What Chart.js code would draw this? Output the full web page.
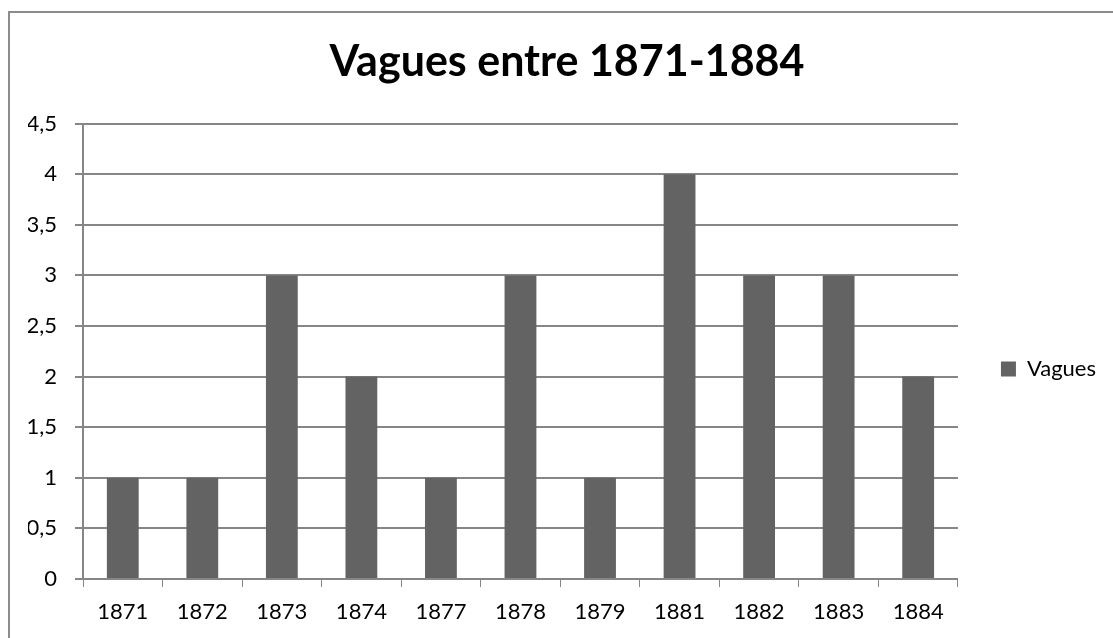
<!DOCTYPE html>
<html>
<head>
<meta charset="utf-8">
<script src="https://cdn.jsdelivr.net/npm/chart.js@4.4.0/dist/chart.umd.min.js"></script>
<style>
  html, body { margin: 0; padding: 0; background: #fff; overflow: hidden; width: 1113px; height: 638px; }
  #frame {
    position: absolute; left: 8px; top: 11px;
    width: 1120px; height: 640px;
    border-left: 2px solid #8c8c8c; border-top: 2px solid #8c8c8c;
    box-sizing: border-box;
  }
  #wrap { position: absolute; left: 0; top: 0; width: 1106px; height: 738px; }
</style>
</head>
<body>
<div id="frame"></div>
<div id="wrap"><canvas id="myChart"></canvas></div>
<script>
const years = ['1871', '1872', '1873', '1874', '1877', '1878', '1879', '1881', '1882', '1883', '1884'];
const vagues = [1, 1, 3, 2, 1, 3, 1, 4, 3, 3, 2];
const chartTitle = 'Vagues entre 1871-1884';
const seriesName = 'Vagues';

const font = 'Lato, Calibri, sans-serif';
const axisGrey = '#868686';

const ctx = document.getElementById('myChart').getContext('2d');
new Chart(ctx, {
  type: 'bar',
  data: {
    labels: years,
    datasets: [{
      label: seriesName,
      data: vagues,
      backgroundColor: '#636363',
      borderWidth: 0,
      barPercentage: 0.4,
      categoryPercentage: 1.0
    }]
  },
  options: {
    responsive: true,
    maintainAspectRatio: false,
    animation: false,
    layout: { padding: { left: 28, right: 0, top: 0, bottom: 0 } },
    plugins: {
      title: {
        display: true,
        text: chartTitle,
        color: '#000',
        font: { family: font, size: 43, weight: 'bold' },
        padding: { top: 36, bottom: 36 }
      },
      legend: {
        position: 'right',
        labels: {
          color: '#000',
          font: { family: font, size: 22 },
          boxWidth: 15,
          boxHeight: 15,
          padding: 43
        }
      },
      tooltip: { enabled: false }
    },
    scales: {
      x: {
        grid: {
          drawOnChartArea: false,
          drawTicks: true,
          tickLength: 8,
          color: axisGrey
        },
        border: { color: axisGrey, width: 2 },
        ticks: {
          color: '#000',
          font: { family: font, size: 22 },
          padding: 12,
          maxRotation: 0
        },
        afterFit: (axis) => { axis.height = 159; }
      },
      y: {
        min: 0,
        max: 4.5,
        grid: {
          color: axisGrey,
          lineWidth: 2,
          tickLength: 8
        },
        border: { color: axisGrey, width: 2 },
        ticks: {
          stepSize: 0.5,
          color: '#000',
          font: { family: font, size: 22 },
          padding: 18,
          callback: (v) => String(v).replace('.', ',')
        },
        afterFit: (axis) => { axis.width = 55; }
      }
    }
  }
});
</script>
</body>
</html>
